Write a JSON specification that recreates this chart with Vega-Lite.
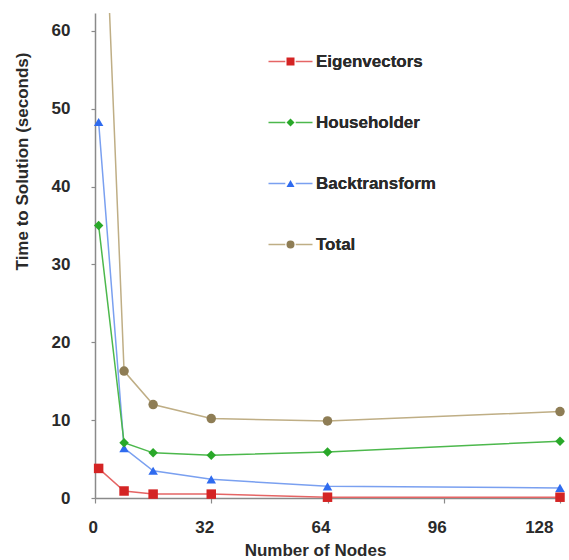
{
  "$schema": "https://vega.github.io/schema/vega-lite/v6.json",
  "width": 465,
  "height": 485,
  "autosize": "none",
  "padding": {"left": 95, "top": 13, "right": 9, "bottom": 62},
  "background": "white",
  "config": {
    "view": {"stroke": null},
    "font": "Liberation Sans",
    "axis": {
      "grid": false,
      "domainColor": "#8a8a8a",
      "domainWidth": 1.5,
      "tickColor": "#8a8a8a",
      "tickWidth": 1.2,
      "labelFont": "Liberation Sans",
      "labelFontSize": 17,
      "labelFontWeight": "bold",
      "labelColor": "#2a2a2a",
      "titleFont": "Liberation Sans",
      "titleFontSize": 17,
      "titleFontWeight": "bold",
      "titleColor": "#2a2a2a"
    },
    "legend": {
      "title": null,
      "orient": "none",
      "legendX": 187,
      "legendY": 40,
      "padding": 0,
      "symbolSize": 64,
      "labelOffset": 17,
      "rowPadding": 43,
      "labelFont": "Liberation Sans",
      "labelFontSize": 17,
      "labelFontWeight": "bold",
      "labelColor": "#2a2a2a",
      "labelLimit": 300
    }
  },
  "data": {
    "values": [
      {"series": "Total", "nodes": 1, "time": 97},
      {"series": "Total", "nodes": 8, "time": 16.3},
      {"series": "Total", "nodes": 16, "time": 12.0},
      {"series": "Total", "nodes": 32, "time": 10.2},
      {"series": "Total", "nodes": 64, "time": 9.9},
      {"series": "Total", "nodes": 128, "time": 11.1},
      {"series": "Backtransform", "nodes": 1, "time": 48.3},
      {"series": "Backtransform", "nodes": 8, "time": 6.4},
      {"series": "Backtransform", "nodes": 16, "time": 3.5},
      {"series": "Backtransform", "nodes": 32, "time": 2.4},
      {"series": "Backtransform", "nodes": 64, "time": 1.5},
      {"series": "Backtransform", "nodes": 128, "time": 1.3},
      {"series": "Householder", "nodes": 1, "time": 35.0},
      {"series": "Householder", "nodes": 8, "time": 7.1},
      {"series": "Householder", "nodes": 16, "time": 5.8},
      {"series": "Householder", "nodes": 32, "time": 5.5},
      {"series": "Householder", "nodes": 64, "time": 5.9},
      {"series": "Householder", "nodes": 128, "time": 7.3},
      {"series": "Eigenvectors", "nodes": 1, "time": 3.8},
      {"series": "Eigenvectors", "nodes": 8, "time": 0.9},
      {"series": "Eigenvectors", "nodes": 16, "time": 0.5},
      {"series": "Eigenvectors", "nodes": 32, "time": 0.5},
      {"series": "Eigenvectors", "nodes": 64, "time": 0.1},
      {"series": "Eigenvectors", "nodes": 128, "time": 0.1}
    ]
  },
  "encoding": {
    "x": {
      "field": "nodes",
      "type": "quantitative",
      "scale": {"domain": [0, 128], "nice": false, "zero": false},
      "axis": {
        "values": [0, 32, 64, 96, 128],
        "title": "Number of Nodes",
        "tickSize": 5,
        "labelPadding": 16,
        "labelOffset": -7,
        "titleX": 220,
        "titleY": 52,
        "titleBaseline": "middle"
      }
    },
    "y": {
      "field": "time",
      "type": "quantitative",
      "scale": {"domain": [0, 62.3], "nice": false, "zero": true},
      "axis": {
        "values": [0, 10, 20, 30, 40, 50, 60],
        "title": "Time to Solution (seconds)",
        "tickSize": 4,
        "labelPadding": 21,
        "titleX": -73,
        "titleY": 148,
        "titleAngle": -90,
        "titleAlign": "center",
        "titleBaseline": "middle"
      }
    }
  },
  "layer": [
    {
      "mark": {"type": "line", "clip": true, "strokeWidth": 1.5},
      "encoding": {
        "stroke": {
          "field": "series",
          "type": "nominal",
          "sort": ["Eigenvectors", "Householder", "Backtransform", "Total"],
          "scale": {"range": ["#e56565", "#4cb84c", "#7aa0f0", "#bfae85"]},
          "legend": {
            "symbolType": "M-5.5,0H-1.3M1.3,0H5.5",
            "symbolStrokeWidth": 1.5
          }
        },
        "order": {"field": "nodes", "type": "quantitative"}
      }
    },
    {
      "mark": {"type": "point", "filled": true, "size": 90, "opacity": 1},
      "encoding": {
        "fill": {
          "field": "series",
          "type": "nominal",
          "scale": {
            "domain": ["Eigenvectors", "Householder", "Backtransform", "Total"],
            "range": ["#d42424", "#29a829", "#2f6bef", "#8e7d55"]
          }
        },
        "shape": {
          "field": "series",
          "type": "nominal",
          "scale": {
            "domain": ["Eigenvectors", "Householder", "Backtransform", "Total"],
            "range": ["square", "diamond", "triangle-up", "circle"]
          }
        }
      }
    }
  ]
}
